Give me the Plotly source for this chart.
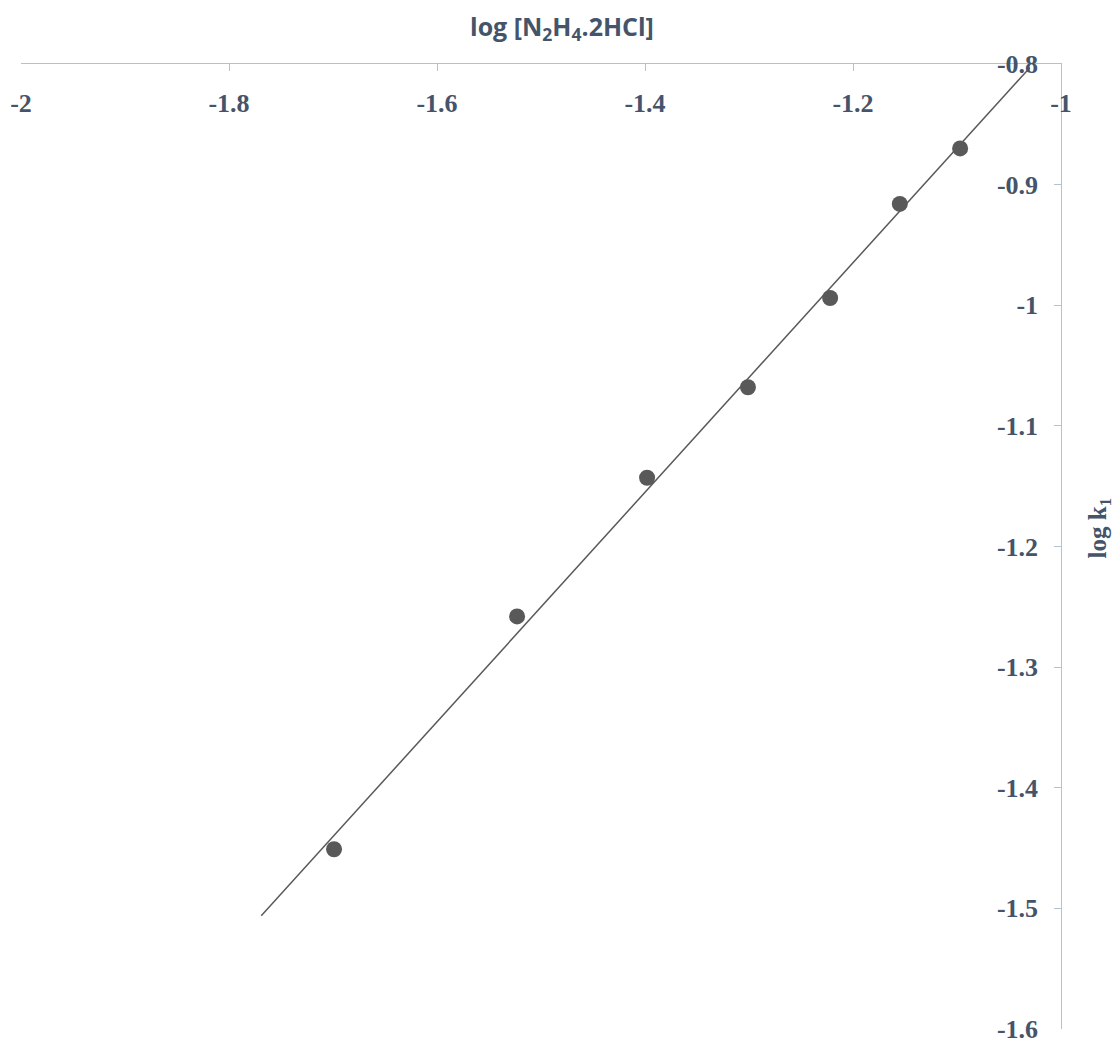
import numpy as np
import plotly.graph_objects as go

# Data
log_conc = [-1.699, -1.523, -1.398, -1.301, -1.222, -1.155, -1.097]
log_k1 = [-1.451, -1.258, -1.143, -1.068, -0.994, -0.916, -0.870]
trend_range = [-1.769, -1.030]   # trendline forecast extent
x_ticks = [-2, -1.8, -1.6, -1.4, -1.2, -1]
y_ticks = [-1.6, -1.5, -1.4, -1.3, -1.2, -1.1, -1, -0.9, -0.8]

slope, intercept = np.polyfit(log_conc, log_k1, 1)
tx = np.array(trend_range)
ty = slope * tx + intercept

TXT = "#44546A"
AX = "#B4C0D4"

fig = go.Figure()
fig.add_trace(go.Scatter(x=tx, y=ty, mode="lines",
                         line=dict(color="#595959", width=1.5),
                         hoverinfo="skip", showlegend=False))
fig.add_trace(go.Scatter(x=log_conc, y=log_k1, mode="markers",
                         marker=dict(color="#595959", size=16,
                                     line=dict(width=0)),
                         showlegend=False))

tickfont = dict(family="Liberation Serif", size=26, color=TXT, weight="bold")

# page body has an 8px margin, so the figure is sized/offset to compensate
W, H = 1112, 1035
ML, MR, MT, MB = 13, 59, 56, 14
pw, ph = W - ML - MR, H - MT - MB

fig.update_layout(
    width=W, height=H,
    margin=dict(l=ML, r=MR, t=MT, b=MB),
    paper_bgcolor="white", plot_bgcolor="white",
    xaxis=dict(
        side="top", range=[-2, -1], tickvals=x_ticks,
        ticktext=[f"{v:g}" for v in x_ticks],
        showline=True, linecolor=AX, linewidth=1.3,
        ticks="inside", ticklen=7, tickcolor=AX, tickwidth=1.3,
        ticklabelposition="inside", ticklabelstandoff=25,
        ticklabeloverflow="allow", automargin=False,
        tickfont=tickfont, showgrid=False, zeroline=False,
    ),
    yaxis=dict(
        side="right", range=[-1.6, -0.8], tickvals=y_ticks,
        ticktext=[f"{v:g}" for v in y_ticks],
        showline=True, linecolor=AX, linewidth=1.3,
        ticks="inside", ticklen=7, tickcolor=AX, tickwidth=1.3,
        ticklabelposition="inside", ticklabelstandoff=18,
        ticklabeloverflow="allow", automargin=False,
        tickfont=tickfont, showgrid=False, zeroline=False,
    ),
    annotations=[
        dict(text="log [N<sub>2</sub>H<sub>4</sub>.2HCl]", xref="paper", yref="paper",
             x=0.5 + 21 / pw, y=1 + 37 / ph, xanchor="center", yanchor="middle",
             showarrow=False,
             font=dict(family="Open Sans", size=25, color=TXT, weight="bold")),
        dict(text="log k<sub>1</sub>", xref="paper", yref="paper",
             x=1 + 38 / pw, y=0.5 + 18 / ph, xanchor="center", yanchor="middle",
             showarrow=False, textangle=-90,
             font=dict(family="Liberation Serif", size=25, color=TXT, weight="bold")),
    ],
)

fig.write_html("out.html")
